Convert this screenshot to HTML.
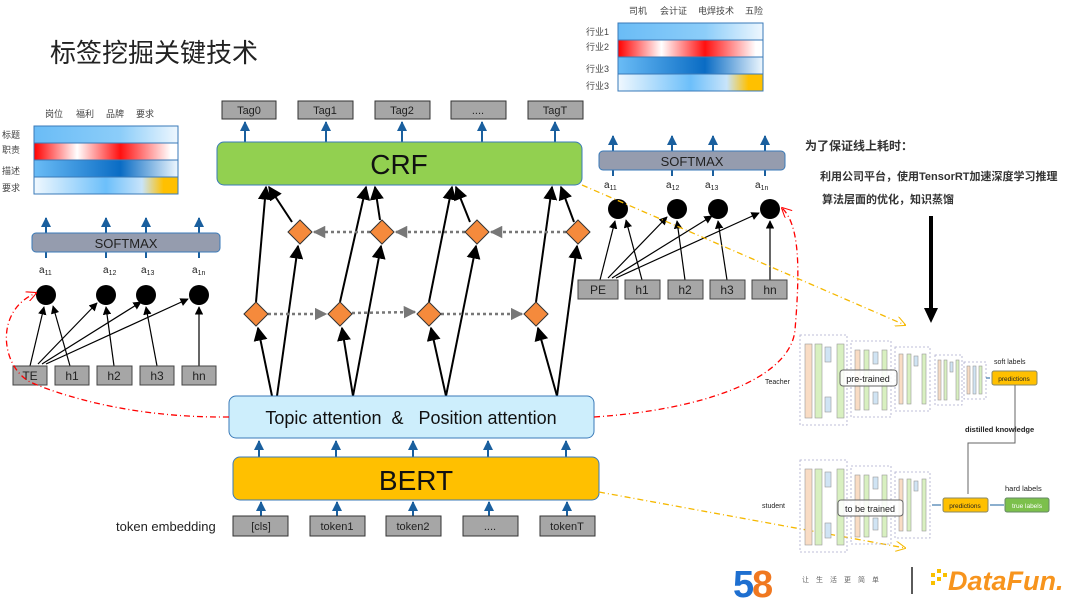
<!DOCTYPE html>
<html><head><meta charset="utf-8"><style>
html,body{margin:0;padding:0;background:#fff;}
svg{display:block;}
text{font-family:"Liberation Sans","Noto Sans CJK SC",sans-serif;}
</style></head><body>
<svg width="1080" height="608" viewBox="0 0 1080 608" xmlns="http://www.w3.org/2000/svg">
<defs>
<linearGradient id="g1" x1="0" x2="1"><stop offset="0" stop-color="#6abcf6"/><stop offset="0.6" stop-color="#8ccdf9"/><stop offset="1" stop-color="#eef7fe"/></linearGradient>
<linearGradient id="g2" x1="0" x2="1"><stop offset="0" stop-color="#ff0000"/><stop offset="0.3" stop-color="#ffffff"/><stop offset="0.6" stop-color="#ff1010"/><stop offset="0.95" stop-color="#ffffff"/></linearGradient>
<linearGradient id="g3" x1="0" x2="1"><stop offset="0" stop-color="#6abcf6"/><stop offset="0.6" stop-color="#0a6cc4"/><stop offset="1" stop-color="#eef7fe"/></linearGradient>
<linearGradient id="g4" x1="0" x2="1"><stop offset="0" stop-color="#f0f8fe"/><stop offset="0.5" stop-color="#6cbffa"/><stop offset="0.75" stop-color="#c8e4fa"/><stop offset="0.9" stop-color="#ffc000"/></linearGradient>
<marker id="ab" viewBox="0 0 10 10" refX="9" refY="5" markerWidth="7" markerHeight="7" orient="auto-start-reverse"><path d="M0,0 L10,5 L0,10 z" fill="#000"/></marker>
<marker id="ag" viewBox="0 0 10 10" refX="9" refY="5" markerWidth="5" markerHeight="5" orient="auto"><path d="M0,0 L10,5 L0,10 z" fill="#777"/></marker>
<marker id="abl" viewBox="0 0 10 10" refX="9" refY="5" markerWidth="5" markerHeight="5" orient="auto"><path d="M0,0 L10,5 L0,10 z" fill="#1a5f9e"/></marker>
<marker id="ar" viewBox="0 0 10 10" refX="9" refY="5" markerWidth="8" markerHeight="8" orient="auto"><path d="M0,0 L10,5 L0,10" fill="none" stroke="#f00"/></marker>
<marker id="ay" viewBox="0 0 10 10" refX="9" refY="5" markerWidth="8" markerHeight="8" orient="auto"><path d="M0,0 L10,5 L0,10" fill="none" stroke="#f5b800"/></marker>
</defs>

<text x="50" y="62" font-size="26" fill="#222">标签挖掘关键技术</text>

<!-- left heatmap -->
<g font-size="9" fill="#444">
<text x="45" y="117">岗位</text><text x="76" y="117">福利</text><text x="106" y="117">品牌</text><text x="136" y="117">要求</text>
<text x="2" y="138">标题</text><text x="2" y="153">职责</text><text x="2" y="174">描述</text><text x="2" y="191">要求</text>
</g>
<rect x="34" y="126" width="144" height="17" fill="url(#g1)" stroke="#3a7ab8"/>
<rect x="34" y="143" width="144" height="17" fill="url(#g2)" stroke="#3a7ab8"/>
<rect x="34" y="160" width="144" height="17" fill="url(#g3)" stroke="#3a7ab8"/>
<rect x="34" y="177" width="144" height="17" fill="url(#g4)" stroke="#3a7ab8"/>

<!-- top right heatmap -->
<g font-size="9" fill="#444">
<text x="629" y="14">司机</text><text x="660" y="14">会计证</text><text x="698" y="14">电焊技术</text><text x="745" y="14">五险</text>
<text x="586" y="35">行业1</text><text x="586" y="50">行业2</text><text x="586" y="72">行业3</text><text x="586" y="89">行业3</text>
</g>
<rect x="618" y="23" width="145" height="17" fill="url(#g1)" stroke="#3a7ab8"/>
<rect x="618" y="40" width="145" height="17" fill="url(#g2)" stroke="#3a7ab8"/>
<rect x="618" y="57" width="145" height="17" fill="url(#g3)" stroke="#3a7ab8"/>
<rect x="618" y="74" width="145" height="17" fill="url(#g4)" stroke="#3a7ab8"/>

<!-- left softmax -->
<g stroke="#1a5f9e" stroke-width="2">
<line x1="46" y1="258" x2="46" y2="218" marker-end="url(#abl)"/>
<line x1="106" y1="258" x2="106" y2="218" marker-end="url(#abl)"/>
<line x1="146" y1="258" x2="146" y2="218" marker-end="url(#abl)"/>
<line x1="199" y1="258" x2="199" y2="218" marker-end="url(#abl)"/>
</g>
<rect x="32" y="233" width="188" height="19" rx="4" fill="#959cae" stroke="#3a7ab8"/>
<text x="126" y="248" font-size="13" text-anchor="middle" fill="#222">SOFTMAX</text>
<g font-size="10" fill="#222">
<text x="39" y="273">a<tspan font-size="7" dy="2">11</tspan></text>
<text x="103" y="273">a<tspan font-size="7" dy="2">12</tspan></text>
<text x="141" y="273">a<tspan font-size="7" dy="2">13</tspan></text>
<text x="192" y="273">a<tspan font-size="7" dy="2">1n</tspan></text>
</g>
<g fill="#000"><circle cx="46" cy="295" r="10"/><circle cx="106" cy="295" r="10"/><circle cx="146" cy="295" r="10"/><circle cx="199" cy="295" r="10"/></g>
<g stroke="#000" stroke-width="1.2" fill="none">
<line x1="30" y1="366" x2="44" y2="307" marker-end="url(#ab)"/>
<line x1="70" y1="366" x2="53" y2="306" marker-end="url(#ab)"/>
<line x1="38" y1="364" x2="97" y2="303" marker-end="url(#ab)"/>
<line x1="42" y1="364" x2="141" y2="302" marker-end="url(#ab)"/>
<line x1="46" y1="364" x2="188" y2="299" marker-end="url(#ab)"/>
<line x1="114" y1="366" x2="106" y2="307" marker-end="url(#ab)"/>
<line x1="157" y1="366" x2="146" y2="307" marker-end="url(#ab)"/>
<line x1="199" y1="366" x2="199" y2="307" marker-end="url(#ab)"/>
</g>
<g fill="#a6a6a6" stroke="#444" stroke-width="1">
<rect x="13" y="366" width="34" height="19"/><rect x="55" y="366" width="34" height="19"/><rect x="97" y="366" width="35" height="19"/><rect x="140" y="366" width="34" height="19"/><rect x="182" y="366" width="34" height="19"/>
</g>
<g font-size="12" fill="#222" text-anchor="middle">
<text x="30" y="380">TE</text><text x="72" y="380">h1</text><text x="114" y="380">h2</text><text x="157" y="380">h3</text><text x="199" y="380">hn</text>
</g>

<!-- right softmax -->
<g stroke="#1a5f9e" stroke-width="2">
<line x1="613" y1="176" x2="613" y2="136" marker-end="url(#abl)"/>
<line x1="672" y1="176" x2="672" y2="136" marker-end="url(#abl)"/>
<line x1="713" y1="176" x2="713" y2="136" marker-end="url(#abl)"/>
<line x1="765" y1="176" x2="765" y2="136" marker-end="url(#abl)"/>
</g>
<rect x="599" y="151" width="186" height="19" rx="4" fill="#959cae" stroke="#3a7ab8"/>
<text x="692" y="166" font-size="13" text-anchor="middle" fill="#222">SOFTMAX</text>
<g font-size="10" fill="#222">
<text x="604" y="188">a<tspan font-size="7" dy="2">11</tspan></text>
<text x="666" y="188">a<tspan font-size="7" dy="2">12</tspan></text>
<text x="705" y="188">a<tspan font-size="7" dy="2">13</tspan></text>
<text x="755" y="188">a<tspan font-size="7" dy="2">1n</tspan></text>
</g>
<g fill="#000"><circle cx="618" cy="209" r="10"/><circle cx="677" cy="209" r="10"/><circle cx="718" cy="209" r="10"/><circle cx="770" cy="209" r="10"/></g>
<g stroke="#000" stroke-width="1.2" fill="none">
<line x1="600" y1="280" x2="615" y2="221" marker-end="url(#ab)"/>
<line x1="642" y1="280" x2="626" y2="220" marker-end="url(#ab)"/>
<line x1="608" y1="278" x2="667" y2="217" marker-end="url(#ab)"/>
<line x1="612" y1="278" x2="712" y2="216" marker-end="url(#ab)"/>
<line x1="616" y1="278" x2="759" y2="213" marker-end="url(#ab)"/>
<line x1="685" y1="280" x2="677" y2="221" marker-end="url(#ab)"/>
<line x1="727" y1="280" x2="718" y2="221" marker-end="url(#ab)"/>
<line x1="770" y1="280" x2="770" y2="221" marker-end="url(#ab)"/>
</g>
<g fill="#a6a6a6" stroke="#444" stroke-width="1">
<rect x="578" y="280" width="40" height="19"/><rect x="625" y="280" width="35" height="19"/><rect x="668" y="280" width="35" height="19"/><rect x="710" y="280" width="35" height="19"/><rect x="752" y="280" width="35" height="19"/>
</g>
<g font-size="12" fill="#222" text-anchor="middle">
<text x="598" y="294">PE</text><text x="642" y="294">h1</text><text x="685" y="294">h2</text><text x="727" y="294">h3</text><text x="770" y="294">hn</text>
</g>

<!-- tags -->
<g fill="#a6a6a6" stroke="#333">
<rect x="222" y="101" width="54" height="18"/><rect x="298" y="101" width="55" height="18"/><rect x="375" y="101" width="55" height="18"/><rect x="451" y="101" width="55" height="18"/><rect x="528" y="101" width="55" height="18"/>
</g>
<g font-size="11" fill="#222" text-anchor="middle">
<text x="249" y="114">Tag0</text><text x="325" y="114">Tag1</text><text x="402" y="114">Tag2</text><text x="478" y="114">....</text><text x="555" y="114">TagT</text>
</g>
<g stroke="#1a5f9e" stroke-width="2">
<line x1="245" y1="143" x2="245" y2="122" marker-end="url(#abl)"/>
<line x1="326" y1="143" x2="326" y2="122" marker-end="url(#abl)"/>
<line x1="402" y1="143" x2="402" y2="122" marker-end="url(#abl)"/>
<line x1="482" y1="143" x2="482" y2="122" marker-end="url(#abl)"/>
<line x1="555" y1="143" x2="555" y2="122" marker-end="url(#abl)"/>
</g>
<rect x="217" y="142" width="365" height="43" rx="7" fill="#92d050" stroke="#3a7ab8"/>
<text x="399" y="174" font-size="28" text-anchor="middle" fill="#111">CRF</text>

<!-- connections -->
<g stroke="#000" stroke-width="2" fill="none">
<line x1="256" y1="302" x2="266" y2="187" marker-end="url(#ab)"/>
<line x1="292" y1="222" x2="269" y2="187" marker-end="url(#ab)"/>
<line x1="277" y1="396" x2="298" y2="246" marker-end="url(#ab)"/>
<line x1="272" y1="396" x2="258" y2="328" marker-end="url(#ab)"/>
<line x1="340" y1="302" x2="366" y2="187" marker-end="url(#ab)"/>
<line x1="380" y1="220" x2="375" y2="187" marker-end="url(#ab)"/>
<line x1="353" y1="396" x2="381" y2="246" marker-end="url(#ab)"/>
<line x1="353" y1="396" x2="342" y2="328" marker-end="url(#ab)"/>
<line x1="429" y1="302" x2="452" y2="187" marker-end="url(#ab)"/>
<line x1="470" y1="222" x2="456" y2="187" marker-end="url(#ab)"/>
<line x1="446" y1="396" x2="476" y2="246" marker-end="url(#ab)"/>
<line x1="446" y1="396" x2="431" y2="328" marker-end="url(#ab)"/>
<line x1="536" y1="302" x2="552" y2="187" marker-end="url(#ab)"/>
<line x1="574" y1="222" x2="561" y2="187" marker-end="url(#ab)"/>
<line x1="557" y1="396" x2="577" y2="246" marker-end="url(#ab)"/>
<line x1="557" y1="396" x2="538" y2="328" marker-end="url(#ab)"/>
</g>
<g stroke="#777" stroke-width="2.5" stroke-dasharray="3,3" fill="none">
<line x1="370" y1="232" x2="314" y2="232" marker-end="url(#ag)"/>
<line x1="465" y1="232" x2="396" y2="232" marker-end="url(#ag)"/>
<line x1="566" y1="232" x2="491" y2="232" marker-end="url(#ag)"/>
<line x1="268" y1="314" x2="326" y2="314" marker-end="url(#ag)"/>
<line x1="352" y1="313" x2="415" y2="312" marker-end="url(#ag)"/>
<line x1="441" y1="314" x2="522" y2="314" marker-end="url(#ag)"/>
</g>
<g fill="#f58a3c" stroke="#333" stroke-width="1">
<path d="M300,220 L312,232 L300,244 L288,232 z"/>
<path d="M382,220 L394,232 L382,244 L370,232 z"/>
<path d="M477,220 L489,232 L477,244 L465,232 z"/>
<path d="M578,220 L590,232 L578,244 L566,232 z"/>
<path d="M256,302 L268,314 L256,326 L244,314 z"/>
<path d="M340,302 L352,314 L340,326 L328,314 z"/>
<path d="M429,302 L441,314 L429,326 L417,314 z"/>
<path d="M536,302 L548,314 L536,326 L524,314 z"/>
</g>

<!-- topic & bert -->
<rect x="229" y="396" width="365" height="42" rx="7" fill="#cdeefc" stroke="#3a7ab8"/>
<text x="411" y="424" font-size="18" text-anchor="middle" fill="#111" xml:space="preserve">Topic attention  &amp;   Position attention</text>
<g stroke="#1a5f9e" stroke-width="2">
<line x1="259" y1="457" x2="259" y2="441" marker-end="url(#abl)"/>
<line x1="336" y1="457" x2="336" y2="441" marker-end="url(#abl)"/>
<line x1="413" y1="457" x2="413" y2="441" marker-end="url(#abl)"/>
<line x1="488" y1="457" x2="488" y2="441" marker-end="url(#abl)"/>
<line x1="566" y1="457" x2="566" y2="441" marker-end="url(#abl)"/>
<line x1="261" y1="516" x2="261" y2="502" marker-end="url(#abl)"/>
<line x1="337" y1="516" x2="337" y2="502" marker-end="url(#abl)"/>
<line x1="413" y1="516" x2="413" y2="502" marker-end="url(#abl)"/>
<line x1="489" y1="516" x2="489" y2="502" marker-end="url(#abl)"/>
<line x1="567" y1="516" x2="567" y2="502" marker-end="url(#abl)"/>
</g>
<rect x="233" y="457" width="366" height="43" rx="7" fill="#ffc000" stroke="#3a7ab8"/>
<text x="416" y="490" font-size="28" text-anchor="middle" fill="#111">BERT</text>
<g fill="#a6a6a6" stroke="#333">
<rect x="233" y="516" width="55" height="20"/><rect x="310" y="516" width="55" height="20"/><rect x="386" y="516" width="55" height="20"/><rect x="463" y="516" width="55" height="20"/><rect x="540" y="516" width="55" height="20"/>
</g>
<g font-size="11" fill="#222" text-anchor="middle">
<text x="261" y="530">[cls]</text><text x="337" y="530">token1</text><text x="413" y="530">token2</text><text x="490" y="530">....</text><text x="567" y="530">tokenT</text>
</g>
<text x="116" y="531" font-size="13" fill="#222">token embedding</text>

<!-- dash-dot curves -->
<path d="M229,417 C130,418 60,395 30,382 C0,365 -5,310 36,293" fill="none" stroke="#f00" stroke-width="1.3" stroke-dasharray="6,3,1,3" marker-end="url(#ar)"/>
<path d="M594,417 C700,410 790,380 795,330 C800,270 800,225 782,208" fill="none" stroke="#f00" stroke-width="1.3" stroke-dasharray="6,3,1,3" marker-end="url(#ar)"/>
<line x1="582" y1="185" x2="905" y2="325" stroke="#f5b800" stroke-width="1.3" stroke-dasharray="6,3,1,3" marker-end="url(#ay)"/>
<line x1="599" y1="492" x2="905" y2="548" stroke="#f5b800" stroke-width="1.3" stroke-dasharray="6,3,1,3" marker-end="url(#ay)"/>

<!-- right text -->
<text x="805" y="150" font-size="12" font-weight="bold" fill="#333">为了保证线上耗时：</text>
<text x="820" y="180" font-size="11" font-weight="bold" fill="#333">利用公司平台，使用TensorRT加速深度学习推理</text>
<text x="822" y="203" font-size="11" font-weight="bold" fill="#333">算法层面的优化，知识蒸馏</text>
<line x1="931" y1="216" x2="931" y2="310" stroke="#000" stroke-width="4"/>
<path d="M924,308 L938,308 L931,323 z" fill="#000"/>

<!-- distillation diagram -->
<g stroke="#aac" stroke-dasharray="2,2" fill="none" stroke-width="0.8">
<rect x="800" y="335" width="47" height="90"/><rect x="851" y="341" width="40" height="76"/><rect x="895" y="347" width="35" height="64"/><rect x="935" y="355" width="27" height="50"/><rect x="964" y="362" width="22" height="37"/>
<rect x="800" y="460" width="47" height="92"/><rect x="851" y="466" width="40" height="78"/><rect x="895" y="472" width="35" height="66"/>
</g>
<g stroke="#999" stroke-width="0.6">
<rect x="805" y="344" width="7" height="74" fill="#f9dcc4"/><rect x="815" y="344" width="7" height="74" fill="#d8f0c0"/><rect x="825" y="347" width="6" height="15" fill="#d0e4f4"/><rect x="825" y="397" width="6" height="15" fill="#d0e4f4"/><rect x="837" y="344" width="7" height="74" fill="#d8f0c0"/>
<rect x="855" y="350" width="5" height="60" fill="#f9dcc4"/><rect x="864" y="350" width="5" height="60" fill="#d8f0c0"/><rect x="873" y="352" width="5" height="12" fill="#d0e4f4"/><rect x="873" y="392" width="5" height="12" fill="#d0e4f4"/><rect x="882" y="350" width="5" height="60" fill="#d8f0c0"/>
<rect x="899" y="354" width="4" height="50" fill="#f9dcc4"/><rect x="907" y="354" width="4" height="50" fill="#d8f0c0"/><rect x="914" y="356" width="4" height="10" fill="#d0e4f4"/><rect x="922" y="354" width="4" height="50" fill="#d8f0c0"/>
<rect x="938" y="360" width="3" height="40" fill="#f9dcc4"/><rect x="944" y="360" width="3" height="40" fill="#d8f0c0"/><rect x="950" y="362" width="3" height="10" fill="#d0e4f4"/><rect x="956" y="360" width="3" height="40" fill="#d8f0c0"/>
<rect x="967" y="366" width="3" height="28" fill="#f9dcc4"/><rect x="973" y="366" width="3" height="28" fill="#d0e4f4"/><rect x="979" y="366" width="3" height="28" fill="#d8f0c0"/>
<rect x="805" y="469" width="7" height="76" fill="#f9dcc4"/><rect x="815" y="469" width="7" height="76" fill="#d8f0c0"/><rect x="825" y="472" width="6" height="15" fill="#d0e4f4"/><rect x="825" y="523" width="6" height="15" fill="#d0e4f4"/><rect x="837" y="469" width="7" height="76" fill="#d8f0c0"/>
<rect x="855" y="475" width="5" height="62" fill="#f9dcc4"/><rect x="864" y="475" width="5" height="62" fill="#d8f0c0"/><rect x="873" y="477" width="5" height="12" fill="#d0e4f4"/><rect x="873" y="518" width="5" height="12" fill="#d0e4f4"/><rect x="882" y="475" width="5" height="62" fill="#d8f0c0"/>
<rect x="899" y="479" width="4" height="52" fill="#f9dcc4"/><rect x="907" y="479" width="4" height="52" fill="#d8f0c0"/><rect x="914" y="481" width="4" height="10" fill="#d0e4f4"/><rect x="922" y="479" width="4" height="52" fill="#d8f0c0"/>
</g>
<rect x="840" y="370" width="57" height="16" rx="3" fill="rgba(255,255,255,0.85)" stroke="#666"/>
<text x="868" y="382" font-size="9" text-anchor="middle" fill="#222">pre-trained</text>
<rect x="838" y="500" width="65" height="16" rx="3" fill="rgba(255,255,255,0.85)" stroke="#666"/>
<text x="870" y="512" font-size="9" text-anchor="middle" fill="#222">to be trained</text>
<text x="765" y="384" font-size="7" fill="#222">Teacher</text>
<text x="762" y="508" font-size="7" fill="#222">student</text>
<text x="994" y="364" font-size="7" fill="#222">soft labels</text>
<line x1="986" y1="378" x2="990" y2="378" stroke="#1a5f9e"/>
<rect x="992" y="371" width="45" height="14" rx="2" fill="#ffc000" stroke="#886"/>
<text x="1014" y="381" font-size="6.5" text-anchor="middle" fill="#222">predictions</text>
<text x="965" y="432" font-size="7.5" font-weight="bold" fill="#222">distilled knowledge</text>
<path d="M1015,385 V443 H968 V494" fill="none" stroke="#666" stroke-width="1"/>
<rect x="943" y="498" width="45" height="14" rx="2" fill="#ffc000" stroke="#886"/>
<text x="965" y="508" font-size="6.5" text-anchor="middle" fill="#222">predictions</text>
<text x="1005" y="491" font-size="7.5" fill="#222">hard labels</text>
<rect x="1005" y="498" width="44" height="14" rx="2" fill="#7cc04c" stroke="#686"/>
<text x="1027" y="508" font-size="6.5" text-anchor="middle" fill="#fff">true labels</text>
<line x1="932" y1="505" x2="941" y2="505" stroke="#1a5f9e"/>
<line x1="1004" y1="505" x2="990" y2="505" stroke="#1a5f9e"/>

<!-- logos -->
<text x="733" y="597" font-size="38" font-weight="bold" fill="#1e6fd0">5</text>
<text x="752" y="597" font-size="38" font-weight="bold" fill="#f07820">8</text>
<text x="802" y="582" font-size="7" fill="#666" letter-spacing="7">让生活更简单</text>
<line x1="912" y1="567" x2="912" y2="594" stroke="#222" stroke-width="1.5"/>
<text x="948" y="590" font-size="27" font-weight="bold" font-style="italic" fill="#f7941d">DataFun.</text>
<g fill="#f9c000"><rect x="931" y="573" width="4" height="4"/><rect x="937" y="569" width="4" height="4"/><rect x="937" y="577" width="4" height="4"/><rect x="943" y="573" width="4" height="4"/><rect x="931" y="581" width="4" height="4"/></g>
</svg>
</body></html>
